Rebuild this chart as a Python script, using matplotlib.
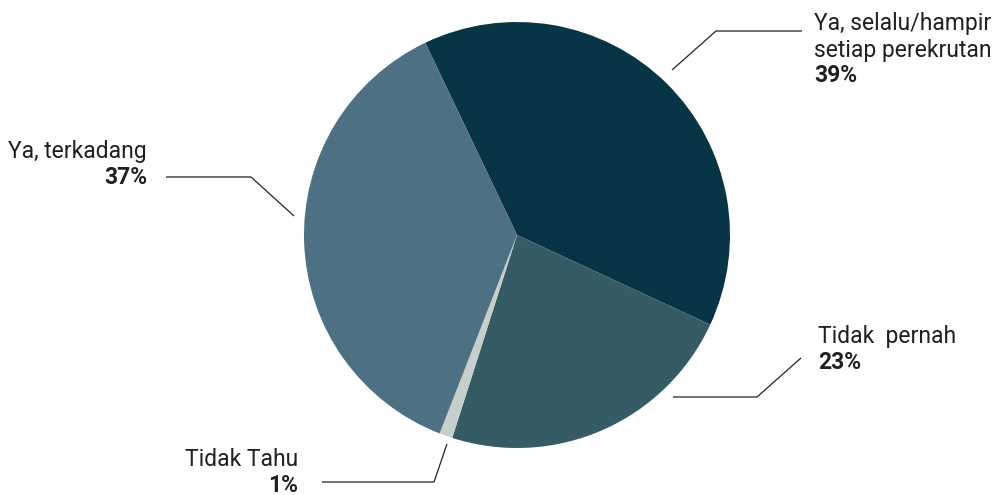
import matplotlib
matplotlib.use("Agg")
import matplotlib.pyplot as plt

# survey answers, clockwise from the top
labels = ["Ya, selalu/hampir\nsetiap perekrutan", "Tidak  pernah", "Tidak Tahu", "Ya, terkadang"]
shares = [39, 23, 1, 37]
colors = ["#083545", "#355c65", "#c6cfcb", "#4d7182"]

W, H = 1002, 495
fig = plt.figure(figsize=(W / 100, H / 100), dpi=100)
ax = fig.add_axes([0, 0, 1, 1])

# y is flipped below, so counterclock here draws clockwise on screen
ax.pie(shares, colors=colors, center=(517, 235), radius=213,
       startangle=-115.5, counterclock=True, frame=True,
       wedgeprops=dict(linewidth=0))
ax.set_xlim(0, W)
ax.set_ylim(H, 0)  # pixel-like coords, y downwards
ax.axis("off")

txt = "#231f20"
fs = 16.5
font = "Roboto"

# leader lines: pie edge -> elbow -> end
leaders = [
    [(672, 70), (716, 31), (802, 31)],
    [(673, 397), (757, 397), (801, 358)],
    [(447, 444), (434, 482), (322, 482)],
    [(294, 216), (251, 177), (166, 177)],
]
# label position (x, baseline of first line, alignment)
spots = [(814, 30, "left"), (818, 343, "left"), (298, 466, "right"), (147, 158, "right")]

for lab, val, pts, (x, y, ha) in zip(labels, shares, leaders, spots):
    xs, ys = zip(*pts)
    ax.plot(xs, ys, color="#222222", lw=0.9, solid_capstyle="butt")
    lines = lab.split("\n")
    for i, ln in enumerate(lines):
        ax.text(x, y + 27 * i, ln, ha=ha, va="baseline", fontsize=fs,
                family=font, color=txt)
    ax.text(x, y + 26 * len(lines), f"{val}%", ha=ha, va="baseline",
            fontsize=fs, family=font, weight="bold", color=txt)

fig.savefig("out.png", dpi=100)
